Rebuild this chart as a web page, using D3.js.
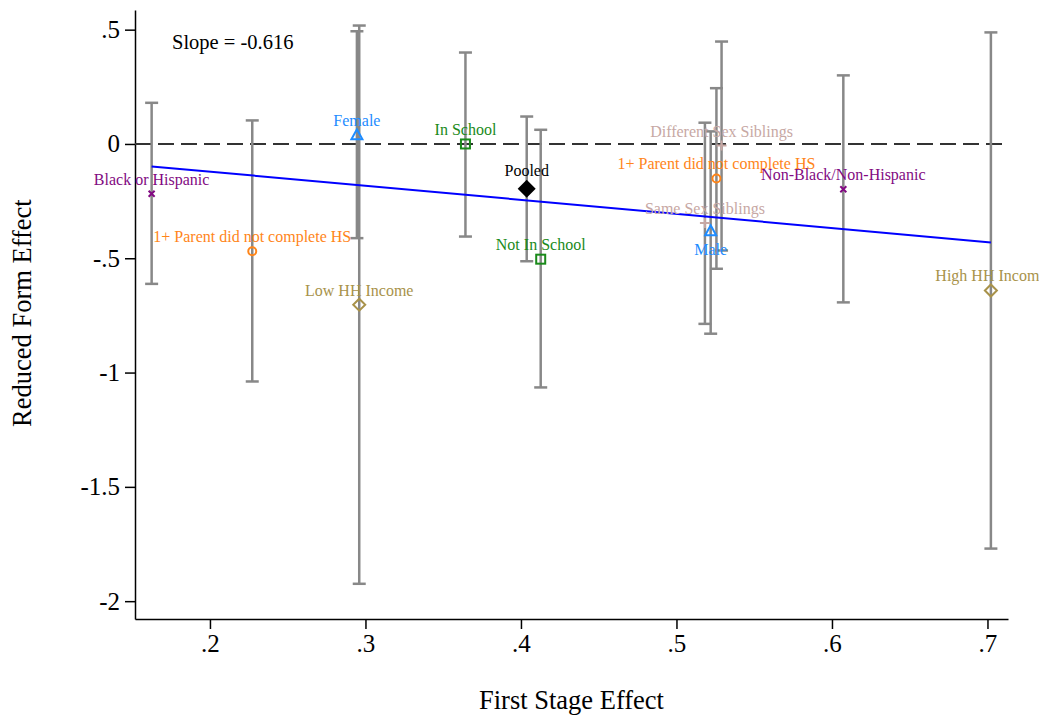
<!DOCTYPE html>
<html>
<head>
<meta charset="utf-8">
<script src="https://cdn.jsdelivr.net/npm/d3@7"></script>
<style>
  body { margin: 0; background: #fff; }
  svg text { font-family: "Liberation Serif", "Times New Roman", serif; }
</style>
</head>
<body>
<svg id="chart" width="1039" height="719"></svg>
<script>
// --- data ------------------------------------------------------
const labels = ["Black or Hispanic", "1+ Parent did not complete HS", "Female", "Low HH Income",
    "In School", "Pooled", "Not In School", "Same Sex Siblings", "Male",
    "1+ Parent did not complete HS", "Different Sex Siblings", "Non-Black/Non-Hispanic", "High HH Income"];
const firstStage = [0.1625, 0.2272, 0.2945, 0.2960, 0.3643, 0.4037, 0.4127, 0.5183, 0.5220, 0.5257, 0.5290, 0.6073, 0.7022];
const reducedForm = [-0.218, -0.469, 0.040, -0.703, 0.000, -0.196, -0.504, -0.346, -0.380, -0.151, -0.007, -0.198, -0.641];
const ciLow = [-0.612, -1.039, -0.412, -1.924, -0.405, -0.513, -1.065, -0.787, -0.830, -0.546, -0.466, -0.693, -1.770];
const ciHigh = [0.180, 0.103, 0.493, 0.518, 0.400, 0.120, 0.062, 0.093, 0.055, 0.244, 0.448, 0.300, 0.488];
const groups = ["race", "parent", "sex", "income", "school", "pooled", "school", "sibs", "sex", "parent", "sibs", "race", "income"];
const labelBelow = ["Male"];

const xTicks = [0.2, 0.3, 0.4, 0.5, 0.6, 0.7];
const yTicks = [0.5, 0, -0.5, -1, -1.5, -2];
const slope = -0.616;
const intercept = 0.002;

// --- look per group -------------------------------------------
const groupColor = {
    race: "#820a82", parent: "#ff8519", sex: "#1e8cff", income: "#a8924a",
    school: "#1a8a1a", pooled: "#000000", sibs: "#c7a8a4"
};
const groupSymbol = {
    race: "x", parent: "circle", sex: "triangle", income: "diamond",
    school: "square", pooled: "bigdiamond", sibs: "plus"
};

const svg = d3.select("#chart");
const margin = { left: 135, right: 31, top: 10, bottom: 100 };
const W = 1039, H = 719;

const x = d3.scaleLinear().domain([0.1518, 0.7132]).range([margin.left, W - margin.right]);
const y = d3.scaleLinear().domain([-2.078, 0.586]).range([H - margin.bottom, margin.top]);

// Stata style: plain hyphen, no leading zero
const fmt = v => v === 0 ? "0" : String(v).replace(/^(-?)0\./, "$1.");

// axes
const yAxis = svg.append("g")
    .attr("transform", `translate(${margin.left},0)`)
    .call(d3.axisLeft(y).tickValues(yTicks).tickFormat(fmt).tickSize(10).tickSizeOuter(0).tickPadding(5));
const xAxis = svg.append("g")
    .attr("transform", `translate(0,${H - margin.bottom})`)
    .call(d3.axisBottom(x).tickValues(xTicks).tickFormat(fmt).tickSize(10).tickSizeOuter(0).tickPadding(5));

[xAxis, yAxis].forEach(a => {
    a.select(".domain").attr("stroke", "#000").attr("stroke-width", 1.5);
    a.selectAll(".tick line").attr("stroke", "#000").attr("stroke-width", 1.5);
    a.selectAll(".tick text").attr("fill", "#000").style("font-size", "25px")
        .style("font-family", '"Liberation Serif", serif');
});

svg.append("text")
    .attr("x", (margin.left + W - margin.right) / 2).attr("y", 709)
    .attr("text-anchor", "middle").style("font-size", "26.5px").text("First Stage Effect");
svg.append("text")
    .attr("transform", `translate(31,${y(-0.74)}) rotate(-90)`)
    .attr("text-anchor", "middle").style("font-size", "26.5px").text("Reduced Form Effect");

// zero reference line
svg.append("line")
    .attr("x1", margin.left).attr("x2", W - margin.right)
    .attr("y1", y(0)).attr("y2", y(0))
    .attr("stroke", "#333").attr("stroke-width", 2).attr("stroke-dasharray", "16,7");

// confidence intervals
const idx = d3.range(labels.length);
const bars = svg.append("g").attr("stroke", "#888").attr("stroke-width", 2.5);
idx.forEach(i => {
    const cx = x(firstStage[i]);
    bars.append("line").attr("x1", cx).attr("x2", cx).attr("y1", y(ciHigh[i])).attr("y2", y(ciLow[i]));
    [ciHigh[i], ciLow[i]].forEach(v =>
        bars.append("line").attr("x1", cx - 6.5).attr("x2", cx + 6.5).attr("y1", y(v)).attr("y2", y(v)));
});

// fitted line
const xr = d3.extent(firstStage);
svg.append("line")
    .attr("x1", x(xr[0])).attr("y1", y(intercept + slope * xr[0]))
    .attr("x2", x(xr[1])).attr("y2", y(intercept + slope * xr[1]))
    .attr("stroke", "#0000ff").attr("stroke-width", 2);

// markers
const marks = svg.append("g");
idx.forEach(i => {
    const g = groups[i], c = groupColor[g], s = groupSymbol[g];
    const cx = x(firstStage[i]), cy = y(reducedForm[i]);
    const m = marks.append("g").attr("transform", `translate(${cx},${cy})`);
    if (s === "circle") {
        m.append("circle").attr("r", 4).attr("fill", "none").attr("stroke", c).attr("stroke-width", 2);
    } else if (s === "square") {
        m.append("rect").attr("x", -4.5).attr("y", -4.5).attr("width", 9).attr("height", 9)
            .attr("fill", "none").attr("stroke", c).attr("stroke-width", 2);
    } else if (s === "triangle") {
        m.append("path").attr("d", "M0,-5.5L5.5,4.5L-5.5,4.5Z")
            .attr("fill", "none").attr("stroke", c).attr("stroke-width", 2);
    } else if (s === "diamond") {
        m.append("path").attr("d", "M0,-6L6,0L0,6L-6,0Z")
            .attr("fill", "none").attr("stroke", c).attr("stroke-width", 2);
    } else if (s === "bigdiamond") {
        m.append("path").attr("d", "M0,-9L9,0L0,9L-9,0Z").attr("fill", c);
    } else if (s === "plus") {
        m.append("path").attr("d", "M-5,0H5M0,-5V5").attr("stroke", c).attr("stroke-width", 2);
    } else {
        m.append("path").attr("d", "M-3,-3L3,3M-3,3L3,-3").attr("stroke", c).attr("stroke-width", 2);
    }
});

// point labels
const lab = svg.append("g").style("font-size", "16px").attr("text-anchor", "middle");
idx.forEach(i => {
    const below = labelBelow.includes(labels[i]);
    const off = groups[i] === "pooled" ? 13 : 9;
    lab.append("text")
        .attr("x", x(firstStage[i]))
        .attr("y", y(reducedForm[i]) + (below ? 24 : -off))
        .attr("fill", groupColor[groups[i]])
        .text(labels[i]);
});

svg.append("text").attr("x", 172).attr("y", 49).style("font-size", "20.5px").text("Slope = -0.616");
</script>
</body>
</html>
